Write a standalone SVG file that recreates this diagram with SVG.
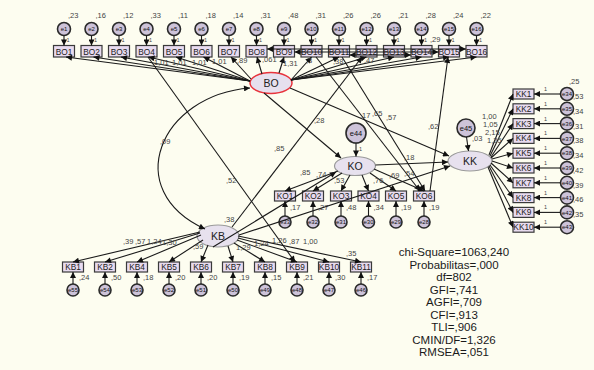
<svg xmlns="http://www.w3.org/2000/svg" width="594" height="370" viewBox="0 0 594 370">
<style>
text{font-family:"Liberation Sans",Arial,sans-serif;fill:#222}
.box{fill:#e8dbef;stroke:#3a3a3a;stroke-width:1.2}
.bt{font-size:8.3px;text-anchor:middle}
.err{fill:#cdc3d9;stroke:#2a2a2a;stroke-width:1.6}
.et{font-size:6px;text-anchor:middle;fill:#111}
.lat{fill:#e7e1ee;stroke:#9a9a9a;stroke-width:1.2}
.lt{font-size:10.5px;text-anchor:middle}
.v{font-size:7.5px;fill:#444}
.s{font-size:5.5px;fill:#444}
.ln{stroke:#1a1a1a;stroke-width:1.1;fill:none;marker-end:url(#ah)}
.cov{stroke:#1a1a1a;stroke-width:1.1;fill:none;marker-end:url(#ah);marker-start:url(#ah)}
.st{font-size:11.5px;text-anchor:middle;fill:#1a1a1a}
</style>
<defs>
<marker id="ah" viewBox="0 0 10 10" refX="10" refY="5" markerWidth="7" markerHeight="6" markerUnits="userSpaceOnUse" orient="auto-start-reverse"><path d="M0,0 L10,5 L0,10 z" fill="#111"/></marker>
</defs>
<rect width="594" height="370" fill="#fdfdf0"/>

<!-- BO indicators -->
<g id="BO1"><circle class="err" cx="64" cy="29" r="6.5"/><text class="et" x="64" y="31.2">e1</text><rect class="box" x="53.5" y="45.5" width="21" height="11.5"/><text class="bt" x="64" y="54.5">BO1</text><text class="v" x="68" y="18">,23</text><text class="s" x="66.5" y="42">1</text></g>
<g id="BO2"><circle class="err" cx="91.5" cy="29" r="6.5"/><text class="et" x="91.5" y="31.2">e2</text><rect class="box" x="81" y="45.5" width="21" height="11.5"/><text class="bt" x="91.5" y="54.5">BO2</text><text class="v" x="95.5" y="18">,16</text><text class="s" x="94" y="42">1</text></g>
<g id="BO3"><circle class="err" cx="119" cy="29" r="6.5"/><text class="et" x="119" y="31.2">e3</text><rect class="box" x="108.5" y="45.5" width="21" height="11.5"/><text class="bt" x="119" y="54.5">BO3</text><text class="v" x="123" y="18">,12</text><text class="s" x="121.5" y="42">1</text></g>
<g id="BO4"><circle class="err" cx="146.5" cy="29" r="6.5"/><text class="et" x="146.5" y="31.2">e4</text><rect class="box" x="136" y="45.5" width="21" height="11.5"/><text class="bt" x="146.5" y="54.5">BO4</text><text class="v" x="150.5" y="18">,33</text><text class="s" x="149" y="42">1</text></g>
<g id="BO5"><circle class="err" cx="174" cy="29" r="6.5"/><text class="et" x="174" y="31.2">e5</text><rect class="box" x="163.5" y="45.5" width="21" height="11.5"/><text class="bt" x="174" y="54.5">BO5</text><text class="v" x="178" y="18">,11</text><text class="s" x="176.5" y="42">1</text></g>
<g id="BO6"><circle class="err" cx="201.5" cy="29" r="6.5"/><text class="et" x="201.5" y="31.2">e6</text><rect class="box" x="191" y="45.5" width="21" height="11.5"/><text class="bt" x="201.5" y="54.5">BO6</text><text class="v" x="205.5" y="18">,18</text><text class="s" x="204" y="42">1</text></g>
<g id="BO7"><circle class="err" cx="229" cy="29" r="6.5"/><text class="et" x="229" y="31.2">e7</text><rect class="box" x="218.5" y="45.5" width="21" height="11.5"/><text class="bt" x="229" y="54.5">BO7</text><text class="v" x="233" y="18">,14</text><text class="s" x="231.5" y="42">1</text></g>
<g id="BO8"><circle class="err" cx="256.5" cy="29" r="6.5"/><text class="et" x="256.5" y="31.2">e8</text><rect class="box" x="246" y="45.5" width="21" height="11.5"/><text class="bt" x="256.5" y="54.5">BO8</text><text class="v" x="260.5" y="18">,31</text><text class="s" x="259" y="42">1</text></g>
<g id="BO9"><circle class="err" cx="284" cy="29" r="6.5"/><text class="et" x="284" y="31.2">e9</text><rect class="box" x="273.5" y="45.5" width="21" height="11.5"/><text class="bt" x="284" y="54.5">BO9</text><text class="v" x="288" y="18">,48</text><text class="s" x="286.5" y="42">1</text></g>
<g id="BO10"><circle class="err" cx="311.5" cy="29" r="6.5"/><text class="et" x="311.5" y="31.2">e10</text><rect class="box" x="301" y="45.5" width="21" height="11.5"/><text class="bt" x="311.5" y="54.5">BO10</text><text class="v" x="315.5" y="18">,31</text><text class="s" x="314" y="42">1</text></g>
<g id="BO11"><circle class="err" cx="339" cy="29" r="6.5"/><text class="et" x="339" y="31.2">e11</text><rect class="box" x="328.5" y="45.5" width="21" height="11.5"/><text class="bt" x="339" y="54.5">BO11</text><text class="v" x="343" y="18">,26</text><text class="s" x="341.5" y="42">1</text></g>
<g id="BO12"><circle class="err" cx="366.5" cy="29" r="6.5"/><text class="et" x="366.5" y="31.2">e12</text><rect class="box" x="356" y="45.5" width="21" height="11.5"/><text class="bt" x="366.5" y="54.5">BO12</text><text class="v" x="370.5" y="18">,26</text><text class="s" x="369" y="42">1</text></g>
<g id="BO13"><circle class="err" cx="394" cy="29" r="6.5"/><text class="et" x="394" y="31.2">e13</text><rect class="box" x="383.5" y="45.5" width="21" height="11.5"/><text class="bt" x="394" y="54.5">BO13</text><text class="v" x="398" y="18">,21</text><text class="s" x="396.5" y="42">1</text></g>
<g id="BO14"><circle class="err" cx="421.5" cy="29" r="6.5"/><text class="et" x="421.5" y="31.2">e14</text><rect class="box" x="411" y="45.5" width="21" height="11.5"/><text class="bt" x="421.5" y="54.5">BO14</text><text class="v" x="425.5" y="18">,28</text><text class="s" x="424" y="42">1</text></g>
<g id="BO15"><circle class="err" cx="449" cy="29" r="6.5"/><text class="et" x="449" y="31.2">e15</text><rect class="box" x="438.5" y="45.5" width="21" height="11.5"/><text class="bt" x="449" y="54.5">BO15</text><text class="v" x="453" y="18">,24</text><text class="s" x="451.5" y="42">1</text></g>
<g id="BO16"><circle class="err" cx="476.5" cy="29" r="6.5"/><text class="et" x="476.5" y="31.2">e16</text><rect class="box" x="466" y="45.5" width="21" height="11.5"/><text class="bt" x="476.5" y="54.5">BO16</text><text class="v" x="480.5" y="18">,22</text><text class="s" x="479" y="42">1</text></g>

<!-- latent variables -->
<g id="BO"><ellipse cx="271" cy="83" rx="21" ry="10.5" fill="#e6e0ee" stroke="#e8333c" stroke-width="1.5"/><text class="lt" x="271" y="87">BO</text></g>
<g id="KO"><ellipse class="lat" cx="355" cy="166" rx="20.5" ry="9.5"/><text class="lt" x="355" y="170">KO</text></g>
<g id="e44"><circle class="err" cx="356" cy="133" r="10"/><text class="et" x="356" y="135.5" style="font-size:7.5px">e44</text></g>
<g id="KK"><ellipse class="lat" cx="470" cy="161" rx="22" ry="10"/><text class="lt" x="470" y="165">KK</text></g>
<g id="e45"><circle class="err" cx="466" cy="128" r="9"/><text class="et" x="466" y="130.5" style="font-size:7.5px">e45</text></g>
<g id="KB"><ellipse class="lat" cx="218" cy="236" rx="21" ry="11"/><text class="lt" x="218" y="240">KB</text></g>

<!-- KK indicators -->
<g id="KK1"><rect class="box" x="513" y="89" width="21" height="10"/><text class="bt" x="523.5" y="97">KK1</text><circle class="err" cx="567" cy="94" r="6.5"/><text class="et" x="567" y="96.2">e34</text><text class="s" x="544" y="91">1</text></g>
<g id="KK2"><rect class="box" x="513" y="103.8" width="21" height="10"/><text class="bt" x="523.5" y="111.8">KK2</text><circle class="err" cx="567" cy="108.8" r="6.5"/><text class="et" x="567" y="111">e35</text><text class="s" x="544" y="105.8">1</text></g>
<g id="KK3"><rect class="box" x="513" y="118.6" width="21" height="10"/><text class="bt" x="523.5" y="126.6">KK3</text><circle class="err" cx="567" cy="123.6" r="6.5"/><text class="et" x="567" y="125.8">e36</text><text class="s" x="544" y="120.6">1</text></g>
<g id="KK4"><rect class="box" x="513" y="133.4" width="21" height="10"/><text class="bt" x="523.5" y="141.4">KK4</text><circle class="err" cx="567" cy="138.4" r="6.5"/><text class="et" x="567" y="140.6">e37</text><text class="s" x="544" y="135.4">1</text></g>
<g id="KK5"><rect class="box" x="513" y="148.2" width="21" height="10"/><text class="bt" x="523.5" y="156.2">KK5</text><circle class="err" cx="567" cy="153.2" r="6.5"/><text class="et" x="567" y="155.4">e38</text><text class="s" x="544" y="150.2">1</text></g>
<g id="KK6"><rect class="box" x="513" y="163" width="21" height="10"/><text class="bt" x="523.5" y="171">KK6</text><circle class="err" cx="567" cy="168" r="6.5"/><text class="et" x="567" y="170.2">e39</text><text class="s" x="544" y="165">1</text></g>
<g id="KK7"><rect class="box" x="513" y="177.8" width="21" height="10"/><text class="bt" x="523.5" y="185.8">KK7</text><circle class="err" cx="567" cy="182.8" r="6.5"/><text class="et" x="567" y="185">e40</text><text class="s" x="544" y="179.8">1</text></g>
<g id="KK8"><rect class="box" x="513" y="192.6" width="21" height="10"/><text class="bt" x="523.5" y="200.6">KK8</text><circle class="err" cx="567" cy="197.6" r="6.5"/><text class="et" x="567" y="199.8">e41</text><text class="s" x="544" y="194.6">1</text></g>
<g id="KK9"><rect class="box" x="513" y="207.4" width="21" height="10"/><text class="bt" x="523.5" y="215.4">KK9</text><circle class="err" cx="567" cy="212.4" r="6.5"/><text class="et" x="567" y="214.6">e42</text><text class="s" x="544" y="209.4">1</text></g>
<g id="KK10"><rect class="box" x="513" y="222.2" width="21" height="10"/><text class="bt" x="523.5" y="230.2">KK10</text><circle class="err" cx="567" cy="227.2" r="6.5"/><text class="et" x="567" y="229.4">e43</text><text class="s" x="544" y="224.2">1</text></g>

<!-- KO indicators -->
<g id="KO1"><rect class="box" x="274.5" y="191" width="21" height="10"/><text class="bt" x="285" y="199">KO1</text><circle class="err" cx="285" cy="222" r="6"/><text class="et" x="285" y="224.2">e33</text><text class="v" x="290" y="210">,17</text></g>
<g id="KO2"><rect class="box" x="302.5" y="191" width="21" height="10"/><text class="bt" x="313" y="199">KO2</text><circle class="err" cx="313" cy="222" r="6"/><text class="et" x="313" y="224.2">e32</text><text class="v" x="318" y="210">,27</text></g>
<g id="KO3"><rect class="box" x="330.5" y="191" width="21" height="10"/><text class="bt" x="341" y="199">KO3</text><circle class="err" cx="341" cy="222" r="6"/><text class="et" x="341" y="224.2">e31</text><text class="v" x="346" y="210">,48</text></g>
<g id="KO4"><rect class="box" x="358" y="191" width="21" height="10"/><text class="bt" x="368.5" y="199">KO4</text><circle class="err" cx="368.5" cy="222" r="6"/><text class="et" x="368.5" y="224.2">e30</text><text class="v" x="373.5" y="210">,34</text></g>
<g id="KO5"><rect class="box" x="385.5" y="191" width="21" height="10"/><text class="bt" x="396" y="199">KO5</text><circle class="err" cx="396" cy="222" r="6"/><text class="et" x="396" y="224.2">e29</text><text class="v" x="401" y="210">,19</text></g>
<g id="KO6"><rect class="box" x="413.5" y="191" width="21" height="10"/><text class="bt" x="424" y="199">KO6</text><circle class="err" cx="424" cy="222" r="6"/><text class="et" x="424" y="224.2">e28</text><text class="v" x="429" y="210">,19</text></g>

<!-- KB indicators -->
<g id="KB1"><rect class="box" x="62.5" y="262" width="21" height="10"/><text class="bt" x="73" y="270">KB1</text><circle class="err" cx="73" cy="290" r="6"/><text class="et" x="73" y="292.2">e55</text><text class="v" x="79" y="280">,24</text></g>
<g id="KB2"><rect class="box" x="94.5" y="262" width="21" height="10"/><text class="bt" x="105" y="270">KB2</text><circle class="err" cx="105" cy="290" r="6"/><text class="et" x="105" y="292.2">e54</text><text class="v" x="111" y="280">,50</text></g>
<g id="KB4"><rect class="box" x="126.5" y="262" width="21" height="10"/><text class="bt" x="137" y="270">KB4</text><circle class="err" cx="137" cy="290" r="6"/><text class="et" x="137" y="292.2">e53</text><text class="v" x="143" y="280">,18</text></g>
<g id="KB5"><rect class="box" x="158.5" y="262" width="21" height="10"/><text class="bt" x="169" y="270">KB5</text><circle class="err" cx="169" cy="290" r="6"/><text class="et" x="169" y="292.2">e52</text><text class="v" x="175" y="280">,20</text></g>
<g id="KB6"><rect class="box" x="190.5" y="262" width="21" height="10"/><text class="bt" x="201" y="270">KB6</text><circle class="err" cx="201" cy="290" r="6"/><text class="et" x="201" y="292.2">e51</text><text class="v" x="207" y="280">,20</text></g>
<g id="KB7"><rect class="box" x="222.5" y="262" width="21" height="10"/><text class="bt" x="233" y="270">KB7</text><circle class="err" cx="233" cy="290" r="6"/><text class="et" x="233" y="292.2">e50</text><text class="v" x="239" y="280">,19</text></g>
<g id="KB8"><rect class="box" x="254.5" y="262" width="21" height="10"/><text class="bt" x="265" y="270">KB8</text><circle class="err" cx="265" cy="290" r="6"/><text class="et" x="265" y="292.2">e49</text><text class="v" x="271" y="280">,15</text></g>
<g id="KB9"><rect class="box" x="286.5" y="262" width="21" height="10"/><text class="bt" x="297" y="270">KB9</text><circle class="err" cx="297" cy="290" r="6"/><text class="et" x="297" y="292.2">e48</text><text class="v" x="303" y="280">,21</text></g>
<g id="KB10"><rect class="box" x="318.5" y="262" width="21" height="10"/><text class="bt" x="329" y="270">KB10</text><circle class="err" cx="329" cy="290" r="6"/><text class="et" x="329" y="292.2">e47</text><text class="v" x="335" y="280">,30</text></g>
<g id="KB11"><rect class="box" x="350.5" y="262" width="21" height="10"/><text class="bt" x="361" y="270">KB11</text><circle class="err" cx="361" cy="290" r="6"/><text class="et" x="361" y="292.2">e46</text><text class="v" x="367" y="280">,17</text></g>

<!-- connectors -->
<g id="connectors">
<!-- BO error arrows -->
<path class="ln" d="M64,35.5V45.5"/><path class="ln" d="M91.5,35.5V45.5"/><path class="ln" d="M119,35.5V45.5"/><path class="ln" d="M146.5,35.5V45.5"/><path class="ln" d="M174,35.5V45.5"/><path class="ln" d="M201.5,35.5V45.5"/><path class="ln" d="M229,35.5V45.5"/><path class="ln" d="M256.5,35.5V45.5"/>
<path class="ln" d="M284,35.5V45.5"/><path class="ln" d="M311.5,35.5V45.5"/><path class="ln" d="M339,35.5V45.5"/><path class="ln" d="M366.5,35.5V45.5"/><path class="ln" d="M394,35.5V45.5"/><path class="ln" d="M421.5,35.5V45.5"/><path class="ln" d="M449,35.5V45.5"/><path class="ln" d="M476.5,35.5V45.5"/>
<!-- BO loadings -->
<path class="ln" d="M250,81L66,57"/><path class="ln" d="M250,81L93.5,57"/><path class="ln" d="M250,81L121,57"/><path class="ln" d="M250,81L148.5,57"/><path class="ln" d="M250,81L176,57"/><path class="ln" d="M250,81L203.5,57"/><path class="ln" d="M251,79L231,57"/>
<path class="ln" d="M262,74L257,57"/><path class="ln" d="M279,73L284,57"/>
<path class="ln" d="M291,80L311.5,57"/><path class="ln" d="M291,80L339,57"/><path class="ln" d="M291,80L366.5,57"/><path class="ln" d="M291,80L394,57"/><path class="ln" d="M291,80L421.5,57"/><path class="ln" d="M291,80L449,57"/><path class="ln" d="M291,80L476.5,57"/>
<!-- BO item covariances -->
<path class="cov" d="M267,49H466"/><path class="cov" d="M294.5,52H438.5"/><path class="cov" d="M349.5,55H411"/>
<!-- structural -->
<path class="cov" d="M250,88C160,95 120,190 205,229"/>
<path class="ln" d="M264,93L341,158"/>
<path class="ln" d="M290,88L449,156"/>
<path class="ln" d="M375.5,165L448,162"/>
<path class="ln" d="M213,247L336,172"/>
<path class="ln" d="M239,235L450,166"/>
<path class="ln" d="M232,227L362,57"/>
<path class="ln" d="M148,57L295,262"/>
<path class="ln" d="M430,191L448,57"/>
<path class="ln" d="M316,57L420,191"/>
<path class="ln" d="M342,57L425,191"/>
<path class="ln" d="M356,143V156.5"/>
<path class="ln" d="M466.5,137L468.5,151"/>
<!-- KO loadings & errors -->
<path class="ln" d="M338,171L285,191"/><path class="ln" d="M342,173L313,191"/><path class="ln" d="M350,175L341,191"/><path class="ln" d="M362,175L368.5,191"/><path class="ln" d="M370,173L396,191"/><path class="ln" d="M374,169L424,191"/>
<path class="ln" d="M285,216V201"/><path class="ln" d="M313,216V201"/><path class="ln" d="M341,216V201"/><path class="ln" d="M368.5,216V201"/><path class="ln" d="M396,216V201"/><path class="ln" d="M424,216V201"/>
<!-- KK loadings & errors -->
<path class="ln" d="M489,155L513,94"/><path class="ln" d="M490,156L513,108.8"/><path class="ln" d="M491,157L513,123.6"/><path class="ln" d="M491,158L513,138.4"/><path class="ln" d="M492,159L513,153.2"/><path class="ln" d="M492,161L513,168"/><path class="ln" d="M491,163L513,182.8"/><path class="ln" d="M490,165L513,197.6"/><path class="ln" d="M489,166L513,212.4"/><path class="ln" d="M488,167L513,227.2"/>
<path class="ln" d="M560.5,94H534"/><path class="ln" d="M560.5,108.8H534"/><path class="ln" d="M560.5,123.6H534"/><path class="ln" d="M560.5,138.4H534"/><path class="ln" d="M560.5,153.2H534"/><path class="ln" d="M560.5,168H534"/><path class="ln" d="M560.5,182.8H534"/><path class="ln" d="M560.5,197.6H534"/><path class="ln" d="M560.5,212.4H534"/><path class="ln" d="M560.5,227.2H534"/>
<!-- KB loadings & errors -->
<path class="ln" d="M200,232L73,262"/><path class="ln" d="M200,233L105,262"/><path class="ln" d="M201,235L137,262"/><path class="ln" d="M203,240L169,262"/><path class="ln" d="M208,245L201,262"/><path class="ln" d="M228,246L233,262"/><path class="ln" d="M234,243L265,262"/><path class="ln" d="M237,240L297,262"/><path class="ln" d="M238,238L329,262"/><path class="ln" d="M238,236L361,262"/>
<path class="ln" d="M73,284V272"/><path class="ln" d="M105,284V272"/><path class="ln" d="M137,284V272"/><path class="ln" d="M169,284V272"/><path class="ln" d="M201,284V272"/><path class="ln" d="M233,284V272"/><path class="ln" d="M265,284V272"/><path class="ln" d="M297,284V272"/><path class="ln" d="M329,284V272"/><path class="ln" d="M361,284V272"/>
</g>

<!-- path labels -->
<g id="labels">
<text class="v" x="154" y="65">1,01</text><text class="v" x="172" y="65">1,01</text><text class="v" x="192" y="65">1,01</text><text class="v" x="212" y="64">1,01</text><text class="v" x="237" y="63">,89</text>
<text class="v" x="262" y="62">,061</text><text class="v" x="283" y="66">1,31</text><text class="v" x="306" y="63">,3</text><text class="v" x="333" y="64">,38</text><text class="v" x="364" y="63">,47</text>
<text class="v" x="430" y="42">,29</text>
<text class="v" x="160" y="144">,09</text>
<text class="v" x="314" y="123">,28</text>
<text class="v" x="274" y="151">,85</text>
<text class="v" x="226" y="183">,52</text>
<text class="v" x="360" y="118">,17</text><text class="v" x="372" y="116">,65</text><text class="v" x="386" y="120">,57</text>
<text class="v" x="428" y="129">,62</text>
<text class="v" x="404" y="160">,18</text>
<text class="s" x="359" y="151">1</text>
<text class="v" x="472" y="141">,03</text>
<text class="v" x="300" y="175">,85</text><text class="v" x="316" y="177">,74</text><text class="v" x="334" y="183">,53</text><text class="v" x="373" y="183">,76</text><text class="v" x="389" y="178">,69</text><text class="v" x="404" y="176">,54</text>
<text class="v" x="482" y="119">1,00</text><text class="v" x="483" y="127">1,05</text><text class="v" x="485" y="135">2,15</text><text class="v" x="487" y="143">1,25</text>
<text class="v" x="569" y="84">,25</text><text class="v" x="573" y="99">,53</text><text class="v" x="573" y="114">,34</text><text class="v" x="573" y="129">,31</text><text class="v" x="573" y="143">,38</text><text class="v" x="573" y="158">,34</text><text class="v" x="573" y="173">,42</text><text class="v" x="573" y="188">,39</text><text class="v" x="573" y="202">,46</text><text class="v" x="573" y="217">,35</text>
<text class="v" x="224" y="222">,38</text>
<text class="v" x="123" y="244">,39</text><text class="v" x="135" y="244">,57</text><text class="v" x="147" y="244">1,24</text><text class="v" x="162" y="245">1,30</text><text class="v" x="193" y="249">,59</text>
<text class="v" x="236" y="250">1,29</text><text class="v" x="254" y="246">1,24</text><text class="v" x="272" y="243">1,26</text><text class="v" x="289" y="244">,87</text><text class="v" x="303" y="244">1,00</text><text class="v" x="346" y="256">,35</text>
</g>

<!-- fit statistics -->
<g id="fit">
<text class="st" x="454" y="256">chi-Square=1063,240</text>
<text class="st" x="454" y="268.5">Probabilitas=,000</text>
<text class="st" x="454" y="281">df=802</text>
<text class="st" x="454" y="293.5">GFI=,741</text>
<text class="st" x="454" y="306">AGFI=,709</text>
<text class="st" x="454" y="318.5">CFI=,913</text>
<text class="st" x="454" y="331">TLI=,906</text>
<text class="st" x="454" y="343.5">CMIN/DF=1,326</text>
<text class="st" x="454" y="356">RMSEA=,051</text>
</g>
</svg>
